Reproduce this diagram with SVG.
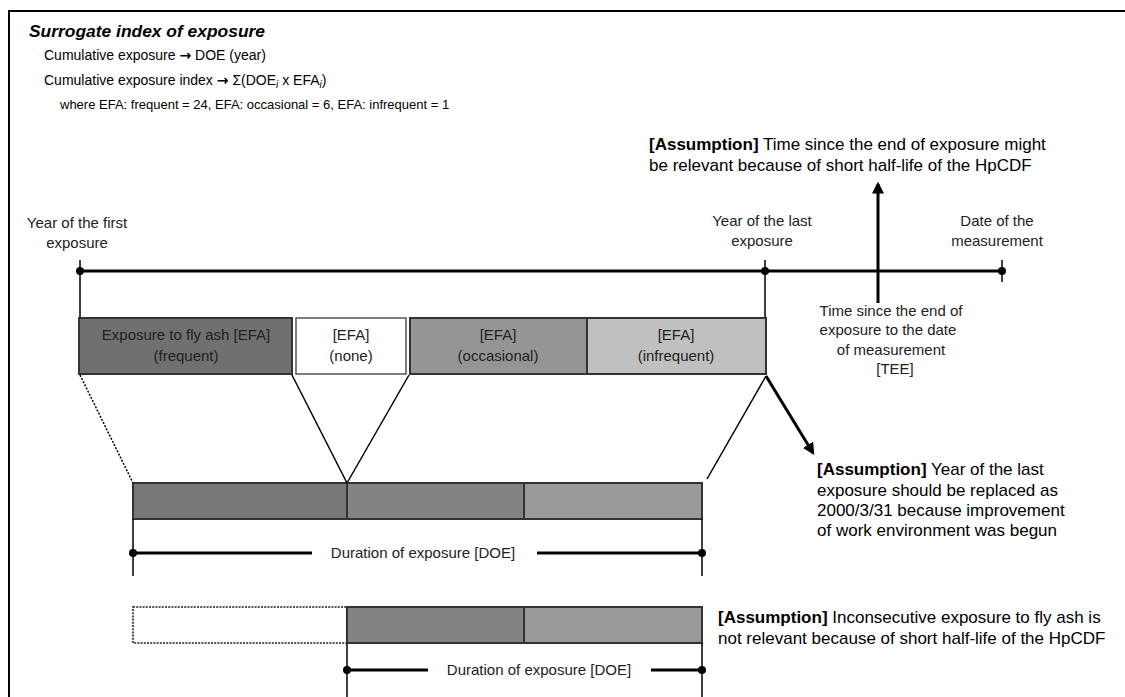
<svg xmlns="http://www.w3.org/2000/svg" width="1125" height="697" viewBox="0 0 1125 697">
<style>
text{font-family:"Liberation Sans",Arial,Helvetica,sans-serif;fill:#000}
.top{font-size:14px}
.arr{font-family:"DejaVu Sans",sans-serif;font-weight:bold}
.lbl{font-size:15px;fill:#222;text-anchor:middle}
.asm{font-size:17px}
.b{font-weight:bold}
.box{stroke:#333;stroke-width:2}
.thick{stroke:#000;stroke-width:3;fill:none}
.thin{stroke:#000;stroke-width:1.5;fill:none}
.dot{fill:#000}
</style>
<defs>
<marker id="ah" viewBox="0 0 10 10" refX="8" refY="5" markerWidth="4" markerHeight="4" orient="auto"><path d="M0,0 L10,5 L0,10 z" fill="#000"/></marker>
</defs>
<rect x="9" y="11" width="1130" height="700" fill="none" stroke="#000" stroke-width="2"/>

<g id="header">
<text class="b" x="29" y="37" font-size="16" font-style="italic" textLength="236" lengthAdjust="spacingAndGlyphs">Surrogate index of exposure</text>
<text class="top" x="44" y="60">Cumulative exposure <tspan class="arr">→</tspan> DOE (year)</text>
<text class="top" x="44" y="85">Cumulative exposure index <tspan class="arr">→</tspan> Σ(DOE<tspan font-style="italic" font-size="10" dy="3">i</tspan><tspan dy="-3"> x EFA</tspan><tspan font-style="italic" font-size="10" dy="3">i</tspan><tspan dy="-3">)</tspan></text>
<text x="60" y="109" font-size="13">where EFA: frequent = 24, EFA: occasional = 6, EFA: infrequent = 1</text>
</g>

<g id="timeline">
<line class="thick" x1="80" y1="271" x2="1002" y2="271"/>
<circle class="dot" cx="80" cy="271" r="4"/>
<circle class="dot" cx="765" cy="271" r="4"/>
<circle class="dot" cx="1002" cy="271" r="4"/>
<line class="thin" x1="80" y1="260" x2="80" y2="318"/>
<line class="thin" x1="765" y1="260" x2="765" y2="318"/>
<line class="thin" x1="1002" y1="260" x2="1002" y2="282"/>
<text class="lbl" x="77" y="228">Year of the first</text>
<text class="lbl" x="77" y="248">exposure</text>
<text class="lbl" x="762" y="226">Year of the last</text>
<text class="lbl" x="762" y="246">exposure</text>
<text class="lbl" x="997" y="226">Date of the</text>
<text class="lbl" x="997" y="246">measurement</text>
</g>

<g id="box-frequent">
<rect class="box" x="79" y="318" width="213" height="56" fill="#707070"/>
<text class="lbl" x="186" y="340">Exposure to fly ash [EFA]</text>
<text class="lbl" x="186" y="361">(frequent)</text>
</g>
<g id="box-none">
<rect x="296" y="318" width="110" height="56" fill="#fff" stroke="#555" stroke-width="1.5"/>
<text class="lbl" x="351" y="340">[EFA]</text>
<text class="lbl" x="351" y="361">(none)</text>
</g>
<g id="box-occasional">
<rect class="box" x="410" y="318" width="177" height="56" fill="#959595"/>
<text class="lbl" x="498" y="340">[EFA]</text>
<text class="lbl" x="498" y="361">(occasional)</text>
</g>
<g id="box-infrequent">
<rect class="box" x="587" y="318" width="179" height="56" fill="#c0c0c0"/>
<text class="lbl" x="676" y="340">[EFA]</text>
<text class="lbl" x="676" y="361">(infrequent)</text>
</g>

<g id="tee">
<text class="lbl" x="891" y="316">Time since the end of</text>
<text class="lbl" x="888" y="335">exposure to the date</text>
<text class="lbl" x="891" y="355">of measurement</text>
<text class="lbl" x="895" y="374">[TEE]</text>
</g>

<g id="bar-doe">
<rect class="box" x="133" y="483" width="214" height="36" fill="#777"/>
<rect class="box" x="347" y="483" width="177" height="36" fill="#838383"/>
<rect class="box" x="524" y="483" width="178" height="36" fill="#999"/>
<line class="thin" x1="133" y1="519" x2="133" y2="576"/>
<line class="thin" x1="702" y1="519" x2="702" y2="576"/>
<line class="thick" x1="133" y1="553" x2="312" y2="553"/>
<line class="thick" x1="537" y1="553" x2="702" y2="553"/>
<circle class="dot" cx="133" cy="553" r="4"/>
<circle class="dot" cx="702" cy="553" r="4"/>
<text class="lbl" x="423" y="558">Duration of exposure [DOE]</text>
</g>

<g id="bar-doe-consecutive">
<rect x="133" y="607" width="214" height="36" fill="#fff" stroke="#555" stroke-width="2.2" stroke-dasharray="2 1.2"/>
<rect class="box" x="347" y="607" width="177" height="36" fill="#838383"/>
<rect class="box" x="524" y="607" width="178" height="36" fill="#999"/>
<line class="thin" x1="347" y1="643" x2="347" y2="697"/>
<line class="thin" x1="702" y1="643" x2="702" y2="697"/>
<line class="thick" x1="347" y1="670" x2="428" y2="670"/>
<line class="thick" x1="651" y1="670" x2="702" y2="670"/>
<circle class="dot" cx="347" cy="670" r="4"/>
<circle class="dot" cx="702" cy="670" r="4"/>
<text class="lbl" x="539" y="675">Duration of exposure [DOE]</text>
</g>

<g id="assumption-tee">
<text class="asm" x="649" y="150"><tspan class="b">[Assumption]</tspan> Time since the end of exposure might</text>
<text class="asm" x="649" y="171">be relevant because of short half-life of the HpCDF</text>
</g>
<g id="assumption-last">
<text class="asm" x="817" y="475"><tspan class="b">[Assumption]</tspan> Year of the last</text>
<text class="asm" x="817" y="496">exposure should be replaced as</text>
<text class="asm" x="817" y="516">2000/3/31 because improvement</text>
<text class="asm" x="817" y="536">of work environment was begun</text>
</g>
<g id="assumption-inconsecutive">
<text class="asm" x="718" y="623"><tspan class="b">[Assumption]</tspan> Inconsecutive exposure to fly ash is</text>
<text class="asm" x="718" y="644">not relevant because of short half-life of the HpCDF</text>
</g>

<g id="connectors">
<line x1="80" y1="375" x2="133" y2="483" stroke="#000" stroke-width="1.5" stroke-dasharray="2 1.5"/>
<line class="thin" x1="292" y1="375" x2="347" y2="483"/>
<line class="thin" x1="409" y1="375" x2="347" y2="483"/>
<line class="thin" x1="766" y1="376" x2="707" y2="479"/>
<line class="thick" x1="766" y1="376" x2="813" y2="453" marker-end="url(#ah)"/>
<line class="thick" x1="878" y1="303" x2="878" y2="184" marker-end="url(#ah)"/>
</g>
</svg>
